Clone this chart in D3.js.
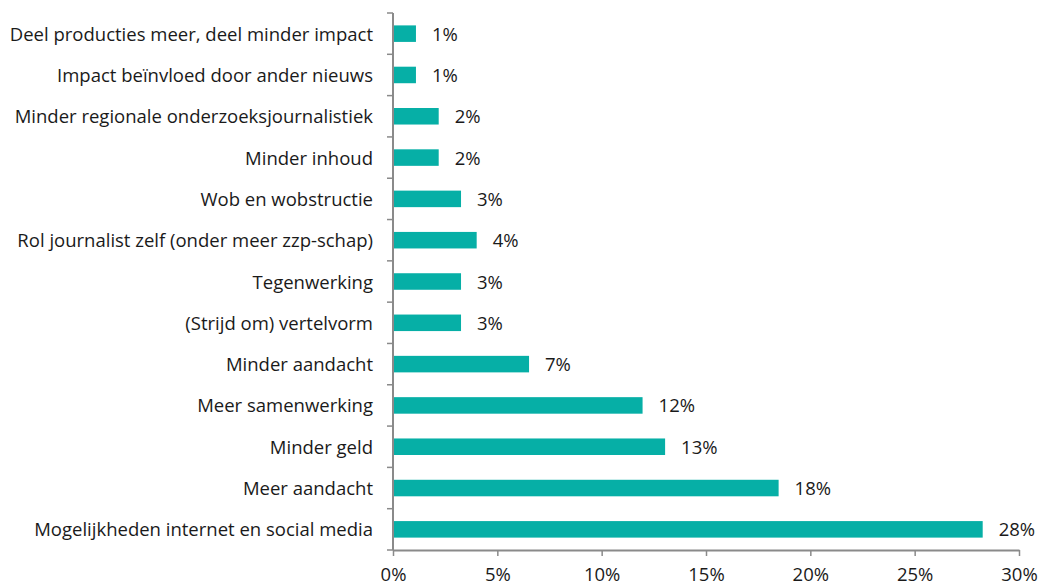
<!DOCTYPE html>
<html>

<head>
  <meta charset="utf-8">
  <title>Impact</title>
  <script src="https://cdnjs.cloudflare.com/ajax/libs/d3/7.8.5/d3.min.js"></script>
  <style>
    body {
      margin: 0;
      background: #fff;
    }

    text {
      font-family: "Open Sans", Lato, sans-serif;
      fill: #1a1a1a;
    }
  </style>
</head>

<body>
  <script>
    var categories = [
      "Deel producties meer, deel minder impact",
      "Impact beïnvloed door ander nieuws",
      "Minder regionale onderzoeksjournalistiek",
      "Minder inhoud",
      "Wob en wobstructie",
      "Rol journalist zelf (onder meer zzp-schap)",
      "Tegenwerking",
      "(Strijd om) vertelvorm",
      "Minder aandacht",
      "Meer samenwerking",
      "Minder geld",
      "Meer aandacht",
      "Mogelijkheden internet en social media"
    ];
    var values = [1.1, 1.1, 2.19, 2.19, 3.26, 4.01, 3.26, 3.26, 6.52, 11.96, 13.04, 18.48, 28.26];
    var valueLabels = ["1%", "1%", "2%", "2%", "3%", "4%", "3%", "3%", "7%", "12%", "13%", "18%", "28%"];
    var xTicks = [0, 5, 10, 15, 20, 25, 30];

    var W = 1043, H = 588;
    var mLeft = 393, mRight = 1019, mTop = 13, mBottom = 550;
    var teal = "#06afa6", axisGrey = "#8a8a8a";
    var fontSize = "18.5px";

    var svg = d3.select("body").append("svg").attr("width", W).attr("height", H);

    var x = d3.scaleLinear().domain([0, 30]).range([mLeft, mRight]);
    var y = d3.scaleBand().domain(categories).range([mTop, mBottom])
      .paddingInner(0.6).paddingOuter(0.3);
    var step = y.step();

    // bars
    svg.selectAll("rect.bar").data(values).enter().append("rect")
      .attr("class", "bar")
      .attr("x", x(0))
      .attr("y", function (d, i) { return y(categories[i]); })
      .attr("width", function (d) { return x(d) - x(0); })
      .attr("height", y.bandwidth())
      .attr("fill", teal);

    // value labels
    svg.selectAll("text.val").data(values).enter().append("text")
      .attr("class", "val")
      .attr("x", function (d) { return x(d) + 16; })
      .attr("y", function (d, i) { return y(categories[i]) + y.bandwidth() / 2; })
      .attr("dy", "0.38em")
      .style("font-size", fontSize)
      .text(function (d, i) { return valueLabels[i]; });

    // category labels
    svg.selectAll("text.cat").data(categories).enter().append("text")
      .attr("class", "cat")
      .attr("x", mLeft - 20)
      .attr("y", function (d) { return y(d) + y.bandwidth() / 2; })
      .attr("dy", "0.38em")
      .attr("text-anchor", "end")
      .style("font-size", fontSize)
      .text(function (d) { return d; });

    // y axis line + boundary ticks
    svg.append("line")
      .attr("x1", mLeft).attr("x2", mLeft).attr("y1", mTop).attr("y2", mBottom)
      .attr("stroke", axisGrey).attr("stroke-width", 2);
    var bounds = categories.map(function (d) { return y(d) - step * 0.3; }).concat([mBottom]);
    svg.selectAll("line.ytick").data(bounds).enter().append("line")
      .attr("class", "ytick")
      .attr("x1", mLeft - 6).attr("x2", mLeft)
      .attr("y1", function (d) { return d; }).attr("y2", function (d) { return d; })
      .attr("stroke", axisGrey).attr("stroke-width", 1.5);

    // x axis
    var xAxis = d3.axisBottom(x).tickValues(xTicks)
      .tickFormat(function (d) { return d + "%"; })
      .tickSize(6).tickSizeOuter(0).tickPadding(12);
    var gx = svg.append("g").attr("transform", "translate(0," + mBottom + ")").call(xAxis);
    gx.select(".domain").attr("stroke", axisGrey).attr("stroke-width", 2);
    gx.selectAll(".tick line").attr("stroke", axisGrey).attr("stroke-width", 1.5);
    gx.selectAll(".tick text").style("font-size", fontSize).attr("fill", "#1a1a1a")
      .style("font-family", "'Open Sans', Lato, sans-serif");
  </script>
</body>

</html>
